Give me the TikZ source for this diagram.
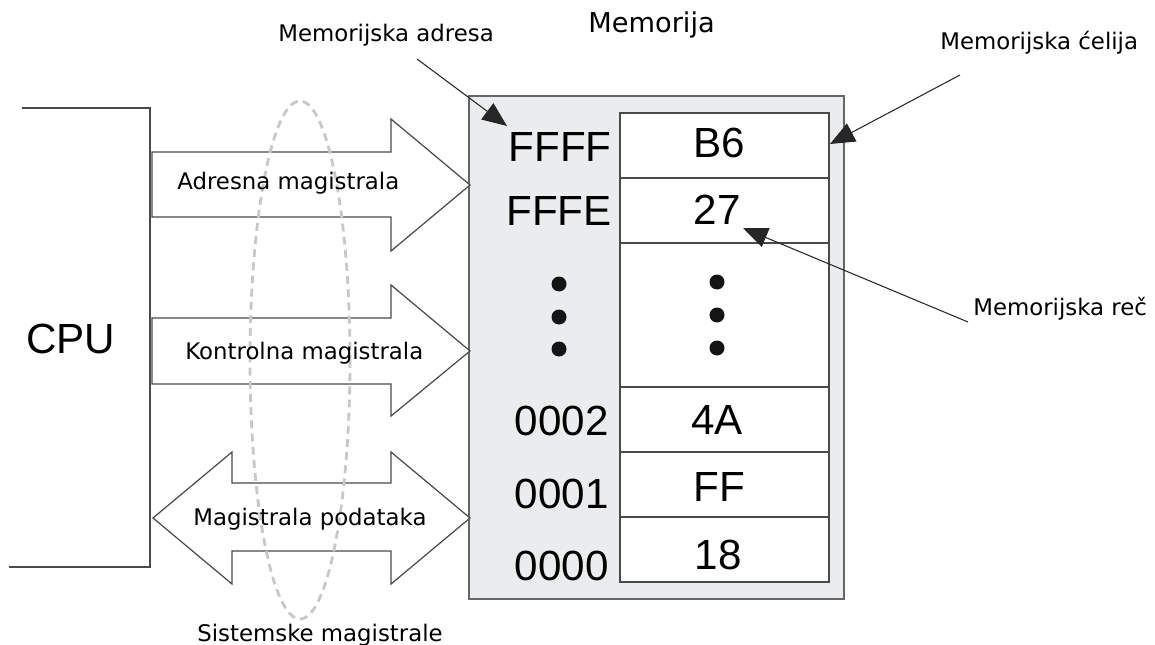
\documentclass[tikz,border=0pt]{standalone}
\usepackage{fontspec}
\setmainfont{DejaVu Sans}
\newfontfamily\hexfont{Liberation Sans}
\usetikzlibrary{arrows.meta}

\definecolor{memfill}{HTML}{EBECED}
\definecolor{edge}{HTML}{4A4A4A}
\definecolor{sysbus}{HTML}{C8C8C8}

\begin{document}
\begin{tikzpicture}[x=0.02cm, y=-0.02cm,
  caption/.style={font=\fontsize{13}{15}\selectfont, inner sep=0pt, anchor=base west},
  hex/.style={font=\hexfont\fontsize{24}{28}\selectfont, inner sep=0pt},
  bus/.style={draw=edge, line width=0.7pt, fill=white, line join=miter},
  pointer/.style={draw=black!85, line width=0.6pt, -{Triangle[length=14pt, width=11.5pt]}},
  membox/.style={draw=black!60, line width=0.9pt, fill=memfill},
  cellrow/.style={draw=edge, line width=0.8pt},
  dotmark/.style={fill=black!92},
  ring/.style={draw=sysbus, line width=1.6pt, dash pattern=on 4.5pt off 3pt}
]
\useasboundingbox (0,0) rectangle (1155,645);

% CPU outline
\draw[draw=edge, line width=0.8pt] (22,108) -- (150,108) -- (150,567) -- (9,567);
\node[hex, anchor=base west] (cpu) at (26,353) {CPU};

% memory block
\draw[membox] (469,96) rectangle (844,599);
\draw[cellrow, fill=white] (620,113) rectangle (829,582);
\foreach \yy in {178,243,387,452,517}
  \draw[cellrow] (620,\yy) -- (829,\yy);

% addresses
\node[hex, anchor=base east] (aFFFF) at (612,162) {FFFF};
\node[hex, anchor=base east] (aFFFE) at (612,225) {FFFE};
\node[hex, anchor=base east] (a0002) at (609,435) {0002};
\node[hex, anchor=base east] (a0001) at (609,508) {0001};
\node[hex, anchor=base east] (a0000) at (609,580) {0000};

% contents
\node[hex, anchor=base] (vB6) at (719,158) {B6};
\node[hex, anchor=base] (v27) at (717,224) {27};
\node[hex, anchor=base] (v4A) at (717,434) {4A};
\node[hex, anchor=base] (vFF) at (719,501) {FF};
\node[hex, anchor=base] (v18) at (718,569) {18};

% ellipsis dots
\foreach \yy in {284,317,349} \fill[dotmark] (559,\yy) circle [radius=7.5];
\foreach \yy in {282,315,348} \fill[dotmark] (717,\yy) circle [radius=7.5];

% buses
\draw[bus] (152,152) -- (391,152) -- (391,119) -- (470,185) -- (391,251)
  -- (391,217) -- (152,217) -- cycle;
\draw[bus] (152,318) -- (391,318) -- (391,285) -- (470,351) -- (391,416)
  -- (391,384) -- (152,384) -- cycle;
\draw[bus] (153,518) -- (232,452) -- (232,483) -- (391,483) -- (391,452)
  -- (470,518) -- (391,584) -- (391,551) -- (232,551) -- (232,584) -- cycle;

% system bus grouping
\draw[ring] (300,360) ellipse [x radius=50, y radius=259];

\node[caption] (adrbus) at (177,190) {Adresna magistrala};
\node[caption] (ctlbus) at (185,359) {Kontrolna magistrala};
\node[caption] (databus) at (193,525) {Magistrala podataka};
\node[caption] (sysbuses) at (197,641) {Sistemske magistrale};

% titles and callouts
\node[caption, font=\fontsize{15.5}{18}\selectfont] (memtitle) at (588,33) {Memorija};
\node[caption] (lbladdr) at (278,42) {Memorijska adresa};
\node[caption] (lblcell) at (940,50) {Memorijska ćelija};
\node[caption] (lblword) at (973,315) {Memorijska reč};

\coordinate (addrFrom) at (417,59);
\coordinate (addrTo) at (507,126);
\coordinate (cellFrom) at (960,75);
\coordinate (cellTo) at (830,144);
\coordinate (wordFrom) at (968,322);
\coordinate (wordTo) at (743,228);

\draw[pointer] (addrFrom) -- (addrTo);
\draw[pointer] (cellFrom) -- (cellTo);
\draw[pointer] (wordFrom) -- (wordTo);
\end{tikzpicture}
\end{document}
